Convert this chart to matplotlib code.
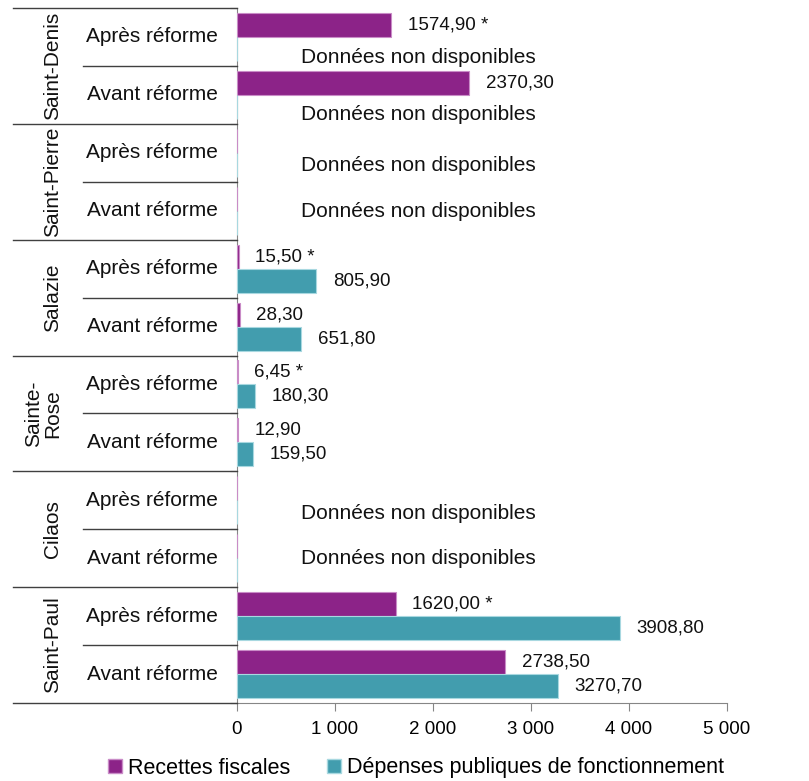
import numpy as np
import matplotlib
matplotlib.use("Agg")
import matplotlib.pyplot as plt
from matplotlib.patches import Patch
from matplotlib.lines import Line2D
from matplotlib.transforms import blended_transform_factory

plt.rcParams['font.family'] = ['Liberation Sans', 'DejaVu Sans']

# Communes (top to bottom) and the two periods inside each commune
communes = ['Saint-Denis', 'Saint-Pierre', 'Salazie', 'Sainte-Rose', 'Cilaos', 'Saint-Paul']
commune_labels = ['Saint-Denis', 'Saint-Pierre', 'Salazie', 'Sainte-\nRose', 'Cilaos', 'Saint-Paul']
periodes = ['Après réforme', 'Avant réforme']

# Values per commune: [Après réforme, Avant réforme]; nan = not available
recettes = [[1574.90, 2370.30],
            [np.nan, np.nan],
            [15.50, 28.30],
            [6.45, 12.90],
            [np.nan, np.nan],
            [1620.00, 2738.50]]
depenses = [[np.nan, np.nan],
            [np.nan, np.nan],
            [805.90, 651.80],
            [180.30, 159.50],
            [np.nan, np.nan],
            [3908.80, 3270.70]]

serie_noms = ['Recettes fiscales', 'Dépenses publiques de fonctionnement']
x_ticks = [0, 1000, 2000, 3000, 4000, 5000]
note_nd = 'Données non disponibles'

C_REC = '#8C2388'
C_REC_EDGE = '#C98CC7'
C_DEP = '#429DAE'
C_DEP_EDGE = '#A8D8E0'
GRID = '#404040'
AXIS = '#868686'

W, H = 809, 781
fig = plt.figure(figsize=(W / 100, H / 100), dpi=100)
ax = fig.add_axes([237 / W, 1 - 703 / H, (727 - 237) / W, (703 - 8) / H])

n_rows = len(communes) * len(periodes)
bar_h = 0.414

rec_vals = np.array(recettes, dtype=float).ravel()
dep_vals = np.array(depenses, dtype=float).ravel()
rows = np.arange(n_rows) + 0.5
y_rec = rows - bar_h / 2
y_dep = rows + bar_h / 2

ax.barh(y_rec, np.nan_to_num(rec_vals), height=bar_h, color=C_REC,
        edgecolor=C_REC_EDGE, linewidth=0.8, zorder=3)
ax.barh(y_dep, np.nan_to_num(dep_vals), height=bar_h, color=C_DEP,
        edgecolor=C_DEP_EDGE, linewidth=0.8, zorder=3)

ax.set_xlim(x_ticks[0], x_ticks[-1])
ax.set_ylim(n_rows, 0)


def fmt_val(v):
    return f"{v:.2f}".replace('.', ',')


lbl_fs = 13.5
for i in range(n_rows):
    apres = (i % 2 == 0)
    r, d = rec_vals[i], dep_vals[i]
    if not np.isnan(r):
        txt = fmt_val(r) + (' *' if apres else '')
        ax.annotate(txt, (r, y_rec[i]), xytext=(12, 0), textcoords='offset points',
                    ha='left', va='center', fontsize=lbl_fs, color='#111111')
    if not np.isnan(d):
        ax.annotate(fmt_val(d), (d, y_dep[i]), xytext=(12, 0), textcoords='offset points',
                    ha='left', va='center', fontsize=lbl_fs, color='#111111')
    else:
        if np.isnan(r):
            shift = 0.02 if apres else -0.2
        else:
            shift = 0.14
        ax.text(1850, y_dep[i] + shift, note_nd, ha='center', va='center',
                fontsize=15, color='#111111')

# Axes styling
for s in ['top', 'right']:
    ax.spines[s].set_visible(False)
ax.spines['left'].set_color(AXIS)
ax.spines['bottom'].set_color(AXIS)
ax.set_xticks(x_ticks)
ax.set_xticklabels([f"{t:,}".replace(',', ' ') for t in x_ticks], fontsize=13.5)
ax.tick_params(axis='x', direction='out', length=6, color=AXIS, pad=7)
ax.set_yticks(np.arange(n_rows + 1))
ax.set_yticklabels([])
ax.tick_params(axis='y', direction='out', length=5, color=GRID)

# Hierarchical category labels to the left of the plot
tr = blended_transform_factory(fig.transFigure, ax.transData)
x_axis = 237 / W
for b in range(n_rows + 1):
    x0 = 13 / W if b % 2 == 0 else 83 / W
    fig.add_artist(Line2D([x0, x_axis], [b, b], transform=tr, color=GRID, lw=1.0))

for g, lab in enumerate(commune_labels):
    fig.text(62 / W, 2 * g + 1, lab, transform=tr, rotation=90, ha='right', va='center',
             multialignment='center', fontsize=15, color='#111111', linespacing=1.0)
    for p, per in enumerate(periodes):
        fig.text(152 / W, 2 * g + p + 0.5, per, transform=tr, ha='center', va='center',
                 fontsize=15, color='#111111')

# Legend
handles = [Patch(facecolor=C_REC, edgecolor=C_REC_EDGE), Patch(facecolor=C_DEP, edgecolor=C_DEP_EDGE)]
fig.legend(handles, serie_noms, loc='center', bbox_to_anchor=(416 / W, 1 - 768 / H), ncol=2,
           frameon=False, fontsize=15.5, handlelength=0.65, handleheight=0.65,
           handletextpad=0.3, columnspacing=1.7, borderaxespad=0)

fig.savefig('out.png', dpi=100)
